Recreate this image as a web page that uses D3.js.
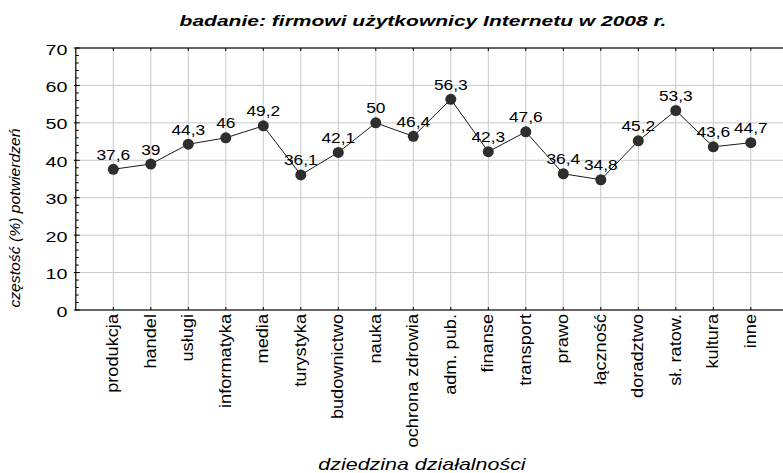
<!DOCTYPE html>
<html>
<head>
<meta charset="utf-8">
<script src="https://cdn.jsdelivr.net/npm/d3@7"></script>
<style>
  html, body { margin: 0; padding: 0; background: #fff; }
  svg { display: block; font-family: "Liberation Sans", Arial, sans-serif; }
</style>
</head>
<body>
<svg id="chart" width="783" height="473"></svg>
<script>
const categories = ["produkcja","handel","usługi","informatyka","media","turystyka","budownictwo","nauka","ochrona zdrowia","adm. pub.","finanse","transport","prawo","łączność","doradztwo","sł. ratow.","kultura","inne"];
const values = [37.6,39,44.3,46,49.2,36.1,42.1,50,46.4,56.3,42.3,47.6,36.4,34.8,45.2,53.3,43.6,44.7];
const yTicks = [0,10,20,30,40,50,60,70];
const minorTicks = d3.range(0, 71, 2).filter(v => v % 10 !== 0);
const title = "badanie: firmowi użytkownicy Internetu w 2008 r.";
const yTitle = "częstość (%) potwierdzeń";
const xTitle = "dziedzina działalności";

(function () {
const svg = d3.select("#chart");
const pLeft = 75.8, pTop = 48, pBottom = 310;

const x = d3.scalePoint().domain(categories).range([113.3, 750.8]);
const step = x.step();
const pRight = x(categories[categories.length - 1]) + step;
const y = d3.scaleLinear().domain([0, 70]).range([pBottom, pTop]);

// grid
const grid = svg.append("g").attr("stroke", "#c8c8c8").attr("stroke-width", 1);
grid.selectAll("line.v").data(categories).join("line")
  .attr("x1", d => x(d)).attr("x2", d => x(d))
  .attr("y1", pTop).attr("y2", pBottom);
grid.selectAll("line.h").data(yTicks.filter(v => v > 0 && v < 70)).join("line")
  .attr("x1", pLeft).attr("x2", pRight)
  .attr("y1", d => y(d)).attr("y2", d => y(d));

// frame
svg.append("rect").attr("x", pLeft).attr("y", pTop)
  .attr("width", pRight - pLeft).attr("height", pBottom - pTop)
  .attr("stroke", "#000").attr("stroke-width", 1.2).attr("fill", "none");

// ticks
const tk = svg.append("g").attr("stroke", "#000").attr("stroke-width", 1);
tk.selectAll("line.t").data(categories).join("line")
  .attr("x1", d => x(d)).attr("x2", d => x(d)).attr("y1", pTop).attr("y2", pTop + 3);
tk.selectAll("line.b").data(categories).join("line")
  .attr("x1", d => x(d)).attr("x2", d => x(d)).attr("y1", pBottom).attr("y2", pBottom - 3);
tk.selectAll("line.mj").data(yTicks).join("line")
  .attr("x1", pLeft - 2).attr("x2", pLeft + 4).attr("y1", d => y(d)).attr("y2", d => y(d));
tk.selectAll("line.mn").data(minorTicks).join("line")
  .attr("x1", pLeft).attr("x2", pLeft + 3).attr("y1", d => y(d)).attr("y2", d => y(d));

// y tick labels
svg.append("g").selectAll("text").data(yTicks).join("text")
  .attr("transform", d => `translate(67.5,${y(d) + 6.5}) scale(1.36,1)`)
  .attr("text-anchor", "end")
  .attr("font-size", 14.5)
  .attr("fill", "#000")
  .text(d => d);

// x category labels
svg.append("g").selectAll("text").data(categories).join("text")
  .attr("transform", d => `translate(${x(d) + 4.7},314) rotate(-90) scale(1.07,1)`)
  .attr("text-anchor", "end")
  .attr("font-size", 17)
  .attr("fill", "#000")
  .text(d => d);

// line
const data = categories.map((c, i) => ({c, v: values[i]}));
svg.append("path").datum(data)
  .attr("fill", "none").attr("stroke", "#1a1a1a").attr("stroke-width", 1)
  .attr("d", d3.line().x(d => x(d.c)).y(d => y(d.v)));

svg.append("g").selectAll("circle").data(data).join("circle")
  .attr("cx", d => x(d.c)).attr("cy", d => y(d.v)).attr("r", 5.5)
  .attr("fill", "#2e2e2e");

// value labels
svg.append("g").selectAll("text").data(data).join("text")
  .attr("transform", d => `translate(${x(d.c)},${y(d.v) - 9.5}) scale(1.12,1)`)
  .attr("text-anchor", "middle")
  .attr("font-size", 15.5)
  .attr("fill", "#000")
  .text(d => String(d.v).replace(".", ","));

// title
svg.append("text")
  .attr("transform", "translate(423,25.5) scale(1.45,1)")
  .attr("text-anchor", "middle")
  .attr("font-size", 14.5).attr("font-weight", "bold").attr("font-style", "italic")
  .attr("fill", "#000")
  .text(title);

// y title
svg.append("text")
  .attr("transform", "translate(20,218) rotate(-90) scale(1.05,1)")
  .attr("text-anchor", "middle")
  .attr("font-size", 15).attr("font-style", "italic")
  .attr("fill", "#000")
  .text(yTitle);

// x title
svg.append("text")
  .attr("transform", "translate(422,470) scale(1.34,1)")
  .attr("text-anchor", "middle")
  .attr("font-size", 16).attr("font-style", "italic")
  .attr("fill", "#000")
  .text(xTitle);
})();
</script>
</body>
</html>
